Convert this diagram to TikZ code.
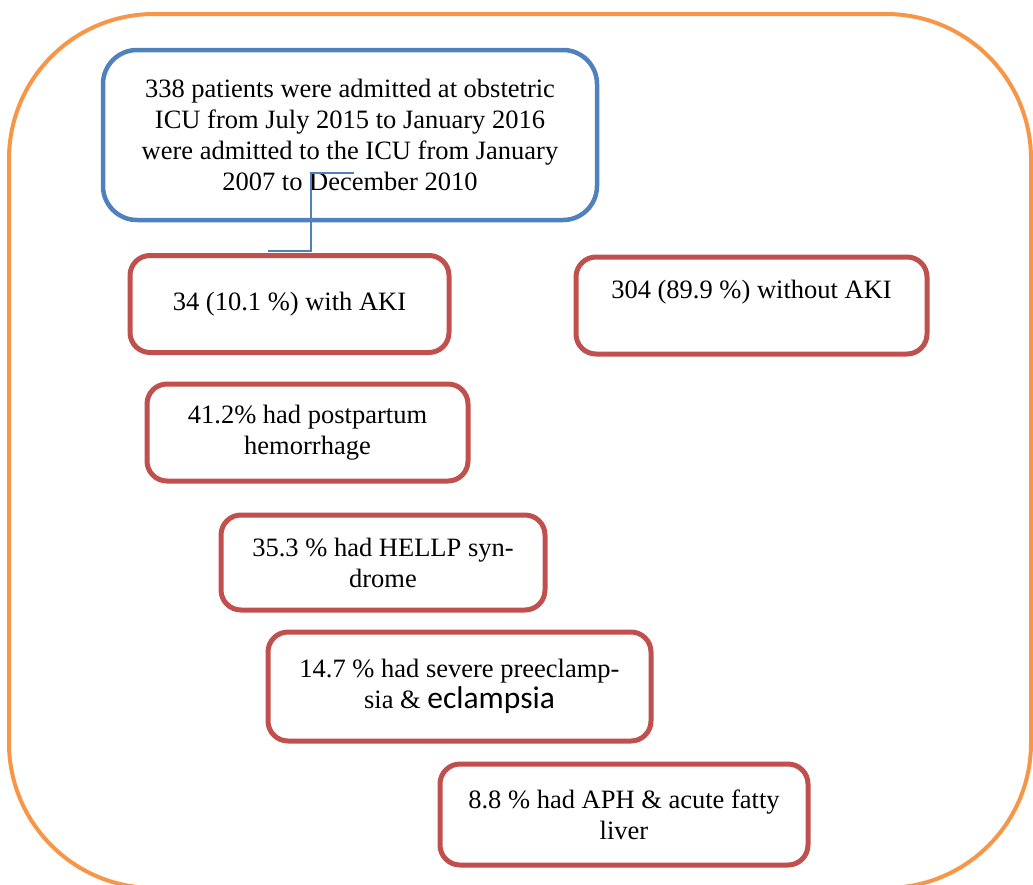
\documentclass[tikz,border=0pt]{standalone}
\usepackage{fontspec}
\setmainfont{Liberation Serif}
\newfontfamily\calibrifont{Carlito}
\usepackage{xcolor}
\usepackage{tikz}
\usetikzlibrary{calc}

\definecolor{frameorange}{HTML}{F79646}
\definecolor{boxblue}{HTML}{4F81BD}
\definecolor{boxred}{HTML}{C0504D}

\begin{document}
\begin{tikzpicture}[
  x=1pt, y=-1pt,
  frame/.style={draw=frameorange, line width=4pt, rounded corners=145pt},
  bluebox/.style={draw=boxblue, line width=4.5pt, rounded corners=34pt,
               align=center, inner sep=0pt, font=\fontsize{26.5}{31}\selectfont},
  redbox/.style={draw=boxred, line width=5pt, rounded corners=20pt,
               align=center, inner sep=0pt, font=\fontsize{26.5}{31}\selectfont},
  link/.style={draw=boxblue, line width=1.6pt},
]

\useasboundingbox (0,0) rectangle (1033,884);

% === Outer frame ===
\draw[frame] (9,14) rectangle (1031,888);

% === Admission box ===
\node[bluebox, minimum width=494pt, minimum height=170pt] (admit) at (350,135)
  {338 patients were admitted at obstetric\\
   ICU from July 2015 to January 2016\\
   were admitted to the ICU from January\\
   2007 to December 2010};

% === Split by AKI ===
\node[redbox, minimum width=319pt, minimum height=97pt] (aki) at (289.5,304)
  {34 (10.1 \%) with AKI};
\node[redbox, minimum width=351pt, minimum height=97pt, text depth=33pt] (noaki)
  at (751.5,305.5) {304 (89.9 \%) without AKI};

% === Causes ===
\node[redbox, minimum width=321pt, minimum height=97pt] (pph) at (307.5,432.5)
  {41.2\% had postpartum\\hemorrhage};
\node[redbox, minimum width=324pt, minimum height=95pt] (hellp) at (383,562.5)
  {35.3 \% had HELLP syn-\\drome};
\node[redbox, minimum width=383pt, minimum height=109pt] (preec) at (459.5,686.5)
  {14.7 \% had severe preeclamp-\\sia \& {\calibrifont\fontsize{31.5}{31}\selectfont eclampsia}};
\node[redbox, minimum width=368pt, minimum height=101pt] (aph) at (624,814.5)
  {8.8 \% had APH \& acute fatty\\liver};

% === Connector ===
\coordinate (linkstart) at ($(admit.center)+(4,38)$);
\coordinate (linkbend) at ($(admit.center)+(-39,38)$);
\coordinate (linkend) at ($(aki.north)+(-21.5,-2)$);
\draw[link] (linkstart) -- (linkbend) |- (linkend);

\end{tikzpicture}
\end{document}
